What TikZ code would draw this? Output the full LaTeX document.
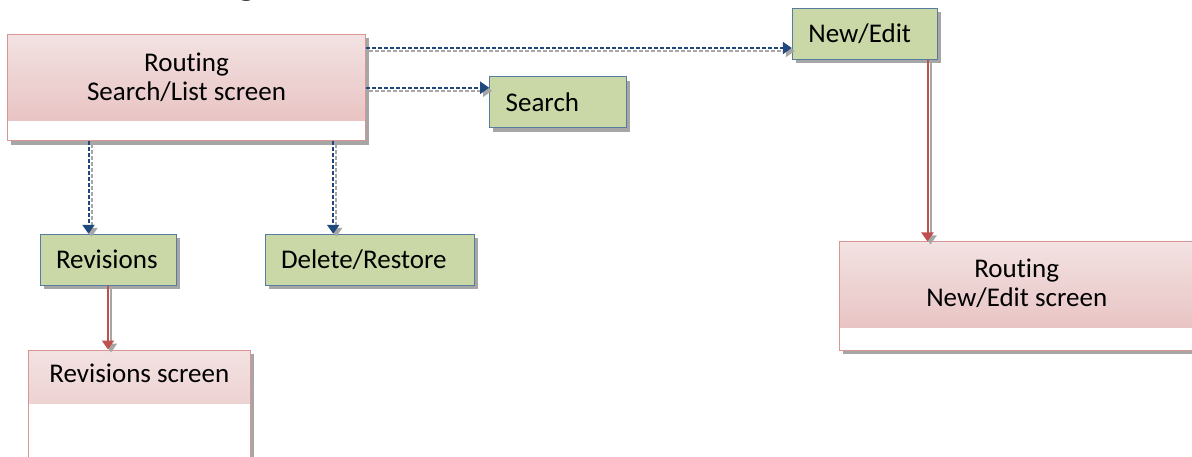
\documentclass[tikz,border=0pt]{standalone}
\usepackage{fontspec}
\setmainfont{Carlito}[Ligatures=NoCommon]
\usetikzlibrary{arrows.meta,shadows}

\definecolor{linkBlue}{RGB}{31,73,125}
\definecolor{flowRed}{RGB}{192,80,77}
\definecolor{shadeGray}{RGB}{166,166,166}
\definecolor{boxGreen}{RGB}{201,216,166}
\definecolor{greenEdge}{RGB}{88,124,160}
\definecolor{pinkTop}{RGB}{243,226,226}
\definecolor{pinkBot}{RGB}{230,188,188}
\definecolor{pinkEdge}{RGB}{217,149,148}

\begin{document}
\begin{tikzpicture}[x=1pt, y=-1pt, font=\fontsize{27}{29.5}\selectfont,
		boxshadow/.style={drop shadow={shadow xshift=3.5pt, shadow yshift=-4pt, fill=shadeGray, opacity=1}},
		action/.style={draw=greenEdge, line width=1pt, fill=boxGreen, boxshadow, inner xsep=16pt, inner ysep=0pt,
			minimum height=51pt, text width=#1, align=left, text height=19pt, text depth=1pt},
		screen/.style n args={3}{draw=pinkEdge, line width=1pt, fill=white, boxshadow, inner sep=0pt,
			minimum width=#1, minimum height=#2,
			path picture={\shade[top color=pinkTop, bottom color=pinkBot]
				(path picture bounding box.north west) rectangle ([yshift=-#3]path picture bounding box.north east);}},
		tip/.style={-{Triangle[width=12pt, length=9pt]}},
		dotlink/.style={tip, linkBlue, line width=2pt, dash pattern=on 4pt off 2pt},
		dotshade/.style={tip, shadeGray, line width=2pt, dash pattern=on 4pt off 2pt, transform canvas={shift={(3pt,-3pt)}}},
		flow/.style={tip, flowRed, line width=2pt},
		flowshade/.style={tip, shadeGray, line width=2pt, transform canvas={shift={(3pt,-3pt)}}}]
		\useasboundingbox (0,0) rectangle (1192,457);
		% heading, cut off by the top edge
		\node[font=\fontsize{40}{40}\selectfont\bfseries, anchor=base, inner sep=0pt] (ttl) at (247,-5.5) {g};
		% screens
		\node[screen={358pt}{106.5pt}{86pt}] (lst) at (186.5,87.75) {};
		\node[align=center] (lsttxt) at (186.5,77.2) {Routing\\Search/List screen};
		\node[screen={354.8pt}{108pt}{85.7pt}] (edscr) at (1016.7,296) {};
		\node[align=center] (edtxt) at (1016.7,283.5) {Routing\\New/Edit screen};
		\node[screen={221.3pt}{130pt}{53.3pt}] (revscr) at (139.35,415) {};
		\node (revtxt) at (139.35,373.4) {Revisions screen};
		% actions
		\node[action=104.6pt] (srch) at (558,102.35) {Search};
		\node[action=113.4pt] (newed) at (865,33.8) {New/Edit};
		\node[action=104pt] (rev) at (108,259.8) {Revisions};
		\node[action=177.7pt] (delres) at (369.85,259.8) {Delete/Restore};
		% connectors
		\coordinate (lnA) at ([yshift=-14pt]lst.north east);
		\coordinate (lnC) at ([xshift=81.5pt]lst.south west);
		\coordinate (lnD) at ([xshift=-32.8pt]lst.south east);
		\coordinate (lnE) at ([xshift=-10.7pt]newed.south east);
		\foreach \ly in {dotshade, dotlink} {
			\draw[\ly] (lnA) -- (lnA -| newed.west);
			\draw[\ly] (lst.east) -- (lst.east -| srch.west);
			\draw[\ly] (lnC) -- (lnC |- rev.north);
			\draw[\ly] (lnD) -- (lnD |- delres.north);
		}
		\foreach \ly in {flowshade, flow} {
			\draw[\ly] (lnE) -- (lnE |- edscr.north);
			\draw[\ly] (rev.south) -- (rev.south |- revscr.north);
		}
	\end{tikzpicture}
\end{document}
